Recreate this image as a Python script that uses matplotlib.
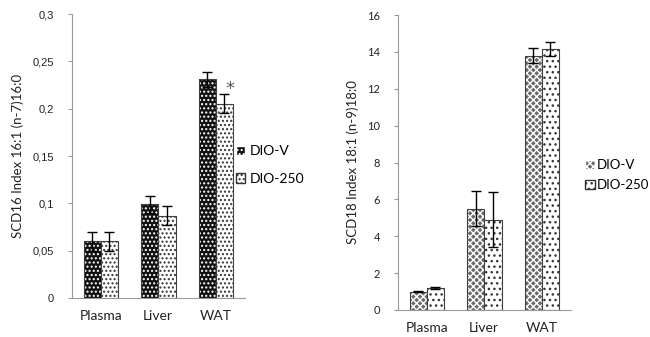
import matplotlib.pyplot as plt
import numpy as np
from matplotlib.patches import Patch

categories = ['Plasma', 'Liver', 'WAT']
series = ['DIO-V', 'DIO-250']

# SCD16 index (left panel)
scd16_v = [0.060, 0.099, 0.231]
scd16_v_err = [0.010, 0.009, 0.008]
scd16_250 = [0.060, 0.087, 0.205]
scd16_250_err = [0.010, 0.010, 0.010]
scd16_ticks = [0, 0.05, 0.1, 0.15, 0.2, 0.25, 0.3]
scd16_ticklabels = ['0', '0,05', '0,1', '0,15', '0,2', '0,25', '0,3']

# SCD18 index (right panel)
scd18_v = [1.0, 5.5, 13.8]
scd18_v_err = [0.05, 0.95, 0.4]
scd18_250 = [1.2, 4.9, 14.15]
scd18_250_err = [0.07, 1.5, 0.4]
scd18_ticks = [0, 2, 4, 6, 8, 10, 12, 14, 16]

plt.rcParams['hatch.linewidth'] = 1.0

fig = plt.figure(figsize=(6.5, 3.37), dpi=100)
ax1 = fig.add_axes([72/650, 1-298/337, 172.5/650, 284/337])
ax2 = fig.add_axes([398/650, 1-310/337, 172.5/650, 295/337])

x = np.arange(len(categories))
w = 0.3

# (face, hatch colour, hatch) for each series in each panel
left_styles = [('#111111', 'white', '....'), ('white', '#333333', '....')]
right_styles = [('#6a6a6a', 'white', 'xxxxx'), ('white', '#333333', '...')]


def hatched_bars(ax, pos, vals, errs, st):
    face, hcol, hatch = st
    ax.bar(pos, vals, w, color=face, edgecolor=hcol, hatch=hatch, linewidth=0)
    ax.bar(pos, vals, w, fill=False, edgecolor='#404040', linewidth=0.8)
    ax.errorbar(pos, vals, yerr=errs, fmt='none', ecolor='black',
                elinewidth=1.0, capsize=3.5, capthick=1.0)


def style(ax, ticks, labels, ylabel, tickfont, labfont):
    ax.set_xlim(-0.5, 2.5)
    ax.set_ylim(ticks[0], ticks[-1])
    ax.set_yticks(ticks)
    ax.set_yticklabels(labels, fontsize=8, family=tickfont, color='#222222')
    ax.set_xticks(x)
    ax.set_xticklabels(categories, fontsize=10, family=labfont, color='#222222')
    ax.tick_params(axis='x', length=0, pad=9)
    ax.tick_params(axis='y', length=3, color='#999999', pad=10)
    for s in ['top', 'right']:
        ax.spines[s].set_visible(False)
    for s in ['left', 'bottom']:
        ax.spines[s].set_color('#999999')
        ax.spines[s].set_linewidth(0.8)
    ax.set_ylabel(ylabel, fontsize=9.5, family=labfont, color='#222222', labelpad=6)


# left panel
hatched_bars(ax1, x - w/2, scd16_v, scd16_v_err, left_styles[0])
hatched_bars(ax1, x + w/2, scd16_250, scd16_250_err, left_styles[1])
style(ax1, scd16_ticks, scd16_ticklabels, 'SCD16 Index 16:1 (n-7)16:0',
      'Liberation Sans', 'Lato')
ax1.text(x[2] + w/2 + 0.1, 0.221, '*', fontsize=13, color='#555555',
         ha='center', va='center')

# right panel
hatched_bars(ax2, x - w/2, scd18_v, scd18_v_err, right_styles[0])
hatched_bars(ax2, x + w/2, scd18_250, scd18_250_err, right_styles[1])
style(ax2, scd18_ticks, [str(t) for t in scd18_ticks],
      'SCD18 Index 18:1 (n-9)18:0', 'Lato', 'Lato')

# legends
h1 = [Patch(facecolor=f, edgecolor=c, hatch=h) for f, c, h in left_styles]
h2 = [Patch(facecolor=f, edgecolor=c, hatch=h) for f, c, h in right_styles]
fig.legend(h1, series, loc='center left', bbox_to_anchor=(230/650, 1-165/337),
           frameon=False, prop={'family': 'Lato', 'size': 10},
           handlelength=0.7, handleheight=0.7, handletextpad=0.3,
           labelspacing=1.1, borderaxespad=0)
fig.legend(h2, series, loc='center left', bbox_to_anchor=(580/650, 1-175/337),
           frameon=False, prop={'family': 'Lato', 'size': 9.5},
           handlelength=0.7, handleheight=0.7, handletextpad=0.2,
           labelspacing=0.6, borderaxespad=0)

fig.savefig('out.png', dpi=100)
